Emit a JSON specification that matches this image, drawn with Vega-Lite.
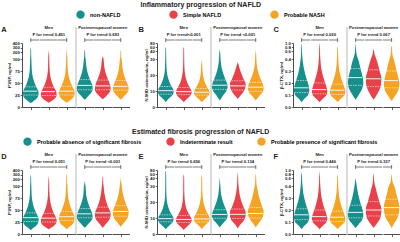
{
"$schema": "https://vega.github.io/schema/vega-lite/v6.json",
"padding": {"left": 1, "top": 1, "right": 1, "bottom": 1},
"config": {
 "font": "Liberation Sans",
 "view": {"stroke": null},
 "axis": {"grid": false, "labelFontSize": 4.3, "labelFontWeight": "bold", "labelColor": "#222", "titleFontSize": 4.4, "titleFontWeight": "bold", "titleColor": "#222", "domainColor": "#222", "tickColor": "#222", "domainWidth": 0.8, "tickWidth": 0.7, "tickSize": 1.8, "labelPadding": 0.8, "titlePadding": 1, "labelOverlap": false},
 "title": {"font": "Liberation Sans", "fontSize": 7, "fontWeight": "bold", "color": "#222"},
 "text": {"font": "Liberation Sans", "fontSize": 4.2, "fontWeight": "bold", "color": "#222"},
 "legend": {"layout": {"top": {"anchor": "middle"}}}
},
"datasets": {
"A": [
{"v":1,"cat":"non-NAFLD","y":8,"d":0},{"v":1,"cat":"non-NAFLD","y":12,"d":0.3},{"v":1,"cat":"non-NAFLD","y":18,"d":0.7},{"v":1,"cat":"non-NAFLD","y":25,"d":0.88},{"v":1,"cat":"non-NAFLD","y":30,"d":0.9},{"v":1,"cat":"non-NAFLD","y":36,"d":0.8},{"v":1,"cat":"non-NAFLD","y":45,"d":0.55},{"v":1,"cat":"non-NAFLD","y":55,"d":0.35},{"v":1,"cat":"non-NAFLD","y":65,"d":0.2},{"v":1,"cat":"non-NAFLD","y":80,"d":0.11},{"v":1,"cat":"non-NAFLD","y":100,"d":0.07},{"v":1,"cat":"non-NAFLD","y":150,"d":0.05},{"v":1,"cat":"non-NAFLD","y":250,"d":0.04},{"v":1,"cat":"non-NAFLD","y":300,"d":0},
{"v":1,"part":"q1","y":25,"d":0.84},{"v":1,"part":"median","y":33,"d":0.82},{"v":1,"part":"q3","y":42,"d":0.6},
{"v":2,"cat":"Simple NAFLD","y":9,"d":0},{"v":2,"cat":"Simple NAFLD","y":13,"d":0.35},{"v":2,"cat":"Simple NAFLD","y":19,"d":0.75},{"v":2,"cat":"Simple NAFLD","y":25,"d":0.9},{"v":2,"cat":"Simple NAFLD","y":30,"d":0.88},{"v":2,"cat":"Simple NAFLD","y":36,"d":0.75},{"v":2,"cat":"Simple NAFLD","y":45,"d":0.5},{"v":2,"cat":"Simple NAFLD","y":55,"d":0.3},{"v":2,"cat":"Simple NAFLD","y":65,"d":0.17},{"v":2,"cat":"Simple NAFLD","y":80,"d":0.09},{"v":2,"cat":"Simple NAFLD","y":100,"d":0.06},{"v":2,"cat":"Simple NAFLD","y":150,"d":0.05},{"v":2,"cat":"Simple NAFLD","y":240,"d":0},
{"v":2,"part":"q1","y":24,"d":0.86},{"v":2,"part":"median","y":32,"d":0.8},{"v":2,"part":"q3","y":41,"d":0.58},
{"v":3,"cat":"Probable NASH","y":9,"d":0},{"v":3,"cat":"Probable NASH","y":13,"d":0.3},{"v":3,"cat":"Probable NASH","y":19,"d":0.7},{"v":3,"cat":"Probable NASH","y":26,"d":0.88},{"v":3,"cat":"Probable NASH","y":31,"d":0.9},{"v":3,"cat":"Probable NASH","y":37,"d":0.8},{"v":3,"cat":"Probable NASH","y":46,"d":0.55},{"v":3,"cat":"Probable NASH","y":56,"d":0.35},{"v":3,"cat":"Probable NASH","y":66,"d":0.2},{"v":3,"cat":"Probable NASH","y":80,"d":0.11},{"v":3,"cat":"Probable NASH","y":100,"d":0.07},{"v":3,"cat":"Probable NASH","y":150,"d":0.05},{"v":3,"cat":"Probable NASH","y":300,"d":0},
{"v":3,"part":"q1","y":25,"d":0.82},{"v":3,"part":"median","y":33,"d":0.85},{"v":3,"part":"q3","y":43,"d":0.6},
{"v":4,"cat":"non-NAFLD","y":15,"d":0},{"v":4,"cat":"non-NAFLD","y":22,"d":0.35},{"v":4,"cat":"non-NAFLD","y":30,"d":0.75},{"v":4,"cat":"non-NAFLD","y":37,"d":0.9},{"v":4,"cat":"non-NAFLD","y":44,"d":0.88},{"v":4,"cat":"non-NAFLD","y":52,"d":0.72},{"v":4,"cat":"non-NAFLD","y":62,"d":0.5},{"v":4,"cat":"non-NAFLD","y":72,"d":0.32},{"v":4,"cat":"non-NAFLD","y":85,"d":0.18},{"v":4,"cat":"non-NAFLD","y":100,"d":0.1},{"v":4,"cat":"non-NAFLD","y":130,"d":0.06},{"v":4,"cat":"non-NAFLD","y":200,"d":0.04},{"v":4,"cat":"non-NAFLD","y":260,"d":0},
{"v":4,"part":"q1","y":36,"d":0.86},{"v":4,"part":"median","y":45,"d":0.84},{"v":4,"part":"q3","y":57,"d":0.6},
{"v":5,"cat":"Simple NAFLD","y":16,"d":0},{"v":5,"cat":"Simple NAFLD","y":23,"d":0.4},{"v":5,"cat":"Simple NAFLD","y":31,"d":0.8},{"v":5,"cat":"Simple NAFLD","y":38,"d":0.9},{"v":5,"cat":"Simple NAFLD","y":45,"d":0.85},{"v":5,"cat":"Simple NAFLD","y":53,"d":0.7},{"v":5,"cat":"Simple NAFLD","y":63,"d":0.48},{"v":5,"cat":"Simple NAFLD","y":73,"d":0.3},{"v":5,"cat":"Simple NAFLD","y":85,"d":0.17},{"v":5,"cat":"Simple NAFLD","y":100,"d":0.09},{"v":5,"cat":"Simple NAFLD","y":120,"d":0.05},{"v":5,"cat":"Simple NAFLD","y":140,"d":0},
{"v":5,"part":"q1","y":36,"d":0.86},{"v":5,"part":"median","y":44,"d":0.84},{"v":5,"part":"q3","y":56,"d":0.6},
{"v":6,"cat":"Probable NASH","y":15,"d":0},{"v":6,"cat":"Probable NASH","y":22,"d":0.35},{"v":6,"cat":"Probable NASH","y":30,"d":0.75},{"v":6,"cat":"Probable NASH","y":37,"d":0.9},{"v":6,"cat":"Probable NASH","y":43,"d":0.86},{"v":6,"cat":"Probable NASH","y":51,"d":0.7},{"v":6,"cat":"Probable NASH","y":61,"d":0.48},{"v":6,"cat":"Probable NASH","y":72,"d":0.3},{"v":6,"cat":"Probable NASH","y":85,"d":0.17},{"v":6,"cat":"Probable NASH","y":100,"d":0.1},{"v":6,"cat":"Probable NASH","y":130,"d":0.05},{"v":6,"cat":"Probable NASH","y":200,"d":0.04},{"v":6,"cat":"Probable NASH","y":240,"d":0},
{"v":6,"part":"q1","y":35,"d":0.85},{"v":6,"part":"median","y":43,"d":0.84},{"v":6,"part":"q3","y":55,"d":0.6}
],
"B": [
{"v":1,"cat":"non-NAFLD","y":3,"d":0},{"v":1,"cat":"non-NAFLD","y":5,"d":0.3},{"v":1,"cat":"non-NAFLD","y":7,"d":0.7},{"v":1,"cat":"non-NAFLD","y":9,"d":0.9},{"v":1,"cat":"non-NAFLD","y":11,"d":0.85},{"v":1,"cat":"non-NAFLD","y":13,"d":0.65},{"v":1,"cat":"non-NAFLD","y":16,"d":0.4},{"v":1,"cat":"non-NAFLD","y":19,"d":0.22},{"v":1,"cat":"non-NAFLD","y":23,"d":0.11},{"v":1,"cat":"non-NAFLD","y":28,"d":0.07},{"v":1,"cat":"non-NAFLD","y":35,"d":0.05},{"v":1,"cat":"non-NAFLD","y":50,"d":0.04},{"v":1,"cat":"non-NAFLD","y":60,"d":0},
{"v":1,"part":"q1","y":8,"d":0.8},{"v":1,"part":"median","y":10.2,"d":0.86},{"v":1,"part":"q3","y":12.8,"d":0.64},
{"v":2,"cat":"Simple NAFLD","y":3,"d":0},{"v":2,"cat":"Simple NAFLD","y":5,"d":0.35},{"v":2,"cat":"Simple NAFLD","y":7,"d":0.75},{"v":2,"cat":"Simple NAFLD","y":9,"d":0.9},{"v":2,"cat":"Simple NAFLD","y":11,"d":0.8},{"v":2,"cat":"Simple NAFLD","y":13,"d":0.6},{"v":2,"cat":"Simple NAFLD","y":16,"d":0.35},{"v":2,"cat":"Simple NAFLD","y":19,"d":0.2},{"v":2,"cat":"Simple NAFLD","y":23,"d":0.1},{"v":2,"cat":"Simple NAFLD","y":28,"d":0.06},{"v":2,"cat":"Simple NAFLD","y":35,"d":0.05},{"v":2,"cat":"Simple NAFLD","y":50,"d":0.04},{"v":2,"cat":"Simple NAFLD","y":60,"d":0},
{"v":2,"part":"q1","y":7.7,"d":0.8},{"v":2,"part":"median","y":9.6,"d":0.86},{"v":2,"part":"q3","y":12.2,"d":0.64},
{"v":3,"cat":"Probable NASH","y":3,"d":0},{"v":3,"cat":"Probable NASH","y":5,"d":0.35},{"v":3,"cat":"Probable NASH","y":7,"d":0.75},{"v":3,"cat":"Probable NASH","y":8.5,"d":0.9},{"v":3,"cat":"Probable NASH","y":10.5,"d":0.82},{"v":3,"cat":"Probable NASH","y":12.5,"d":0.6},{"v":3,"cat":"Probable NASH","y":15,"d":0.38},{"v":3,"cat":"Probable NASH","y":18,"d":0.2},{"v":3,"cat":"Probable NASH","y":22,"d":0.1},{"v":3,"cat":"Probable NASH","y":26,"d":0.06},{"v":3,"cat":"Probable NASH","y":30,"d":0},
{"v":3,"part":"q1","y":7.4,"d":0.8},{"v":3,"part":"median","y":9.2,"d":0.86},{"v":3,"part":"q3","y":11.6,"d":0.66},
{"v":4,"cat":"non-NAFLD","y":4,"d":0},{"v":4,"cat":"non-NAFLD","y":7,"d":0.35},{"v":4,"cat":"non-NAFLD","y":10,"d":0.75},{"v":4,"cat":"non-NAFLD","y":12.5,"d":0.9},{"v":4,"cat":"non-NAFLD","y":15,"d":0.82},{"v":4,"cat":"non-NAFLD","y":18,"d":0.6},{"v":4,"cat":"non-NAFLD","y":21,"d":0.4},{"v":4,"cat":"non-NAFLD","y":25,"d":0.2},{"v":4,"cat":"non-NAFLD","y":30,"d":0.09},{"v":4,"cat":"non-NAFLD","y":38,"d":0.05},{"v":4,"cat":"non-NAFLD","y":50,"d":0},
{"v":4,"part":"q1","y":11,"d":0.84},{"v":4,"part":"median","y":13.6,"d":0.86},{"v":4,"part":"q3","y":16.8,"d":0.68},
{"v":5,"cat":"Simple NAFLD","y":5,"d":0},{"v":5,"cat":"Simple NAFLD","y":7,"d":0.3},{"v":5,"cat":"Simple NAFLD","y":10,"d":0.7},{"v":5,"cat":"Simple NAFLD","y":12.5,"d":0.88},{"v":5,"cat":"Simple NAFLD","y":14.5,"d":0.9},{"v":5,"cat":"Simple NAFLD","y":17,"d":0.7},{"v":5,"cat":"Simple NAFLD","y":20,"d":0.48},{"v":5,"cat":"Simple NAFLD","y":23,"d":0.28},{"v":5,"cat":"Simple NAFLD","y":26,"d":0.12},{"v":5,"cat":"Simple NAFLD","y":28,"d":0},
{"v":5,"part":"q1","y":10.6,"d":0.74},{"v":5,"part":"median","y":13.2,"d":0.86},{"v":5,"part":"q3","y":16.4,"d":0.76},
{"v":6,"cat":"Probable NASH","y":4,"d":0},{"v":6,"cat":"Probable NASH","y":6.5,"d":0.35},{"v":6,"cat":"Probable NASH","y":9,"d":0.75},{"v":6,"cat":"Probable NASH","y":11.5,"d":0.9},{"v":6,"cat":"Probable NASH","y":14,"d":0.82},{"v":6,"cat":"Probable NASH","y":17,"d":0.6},{"v":6,"cat":"Probable NASH","y":20,"d":0.38},{"v":6,"cat":"Probable NASH","y":24,"d":0.18},{"v":6,"cat":"Probable NASH","y":29,"d":0.08},{"v":6,"cat":"Probable NASH","y":35,"d":0.05},{"v":6,"cat":"Probable NASH","y":48,"d":0},
{"v":6,"part":"q1","y":9.8,"d":0.8},{"v":6,"part":"median","y":12.4,"d":0.86},{"v":6,"part":"q3","y":15.4,"d":0.7}
],
"C": [
{"v":1,"cat":"non-NAFLD","y":0.04,"d":0},{"v":1,"cat":"non-NAFLD","y":0.07,"d":0.35},{"v":1,"cat":"non-NAFLD","y":0.1,"d":0.75},{"v":1,"cat":"non-NAFLD","y":0.14,"d":0.9},{"v":1,"cat":"non-NAFLD","y":0.18,"d":0.82},{"v":1,"cat":"non-NAFLD","y":0.23,"d":0.6},{"v":1,"cat":"non-NAFLD","y":0.28,"d":0.4},{"v":1,"cat":"non-NAFLD","y":0.34,"d":0.22},{"v":1,"cat":"non-NAFLD","y":0.4,"d":0.11},{"v":1,"cat":"non-NAFLD","y":0.5,"d":0.07},{"v":1,"cat":"non-NAFLD","y":0.6,"d":0.05},{"v":1,"cat":"non-NAFLD","y":0.8,"d":0.04},{"v":1,"cat":"non-NAFLD","y":1.0,"d":0},
{"v":1,"part":"q1","y":0.12,"d":0.84},{"v":1,"part":"median","y":0.16,"d":0.86},{"v":1,"part":"q3","y":0.22,"d":0.64},
{"v":2,"cat":"Simple NAFLD","y":0.04,"d":0},{"v":2,"cat":"Simple NAFLD","y":0.07,"d":0.4},{"v":2,"cat":"Simple NAFLD","y":0.1,"d":0.8},{"v":2,"cat":"Simple NAFLD","y":0.13,"d":0.9},{"v":2,"cat":"Simple NAFLD","y":0.17,"d":0.78},{"v":2,"cat":"Simple NAFLD","y":0.22,"d":0.55},{"v":2,"cat":"Simple NAFLD","y":0.27,"d":0.35},{"v":2,"cat":"Simple NAFLD","y":0.33,"d":0.18},{"v":2,"cat":"Simple NAFLD","y":0.4,"d":0.09},{"v":2,"cat":"Simple NAFLD","y":0.5,"d":0.06},{"v":2,"cat":"Simple NAFLD","y":0.6,"d":0.05},{"v":2,"cat":"Simple NAFLD","y":0.8,"d":0.04},{"v":2,"cat":"Simple NAFLD","y":1.0,"d":0},
{"v":2,"part":"q1","y":0.11,"d":0.84},{"v":2,"part":"median","y":0.145,"d":0.84},{"v":2,"part":"q3","y":0.2,"d":0.62},
{"v":3,"cat":"Probable NASH","y":0.04,"d":0},{"v":3,"cat":"Probable NASH","y":0.07,"d":0.4},{"v":3,"cat":"Probable NASH","y":0.1,"d":0.82},{"v":3,"cat":"Probable NASH","y":0.13,"d":0.9},{"v":3,"cat":"Probable NASH","y":0.17,"d":0.75},{"v":3,"cat":"Probable NASH","y":0.22,"d":0.5},{"v":3,"cat":"Probable NASH","y":0.27,"d":0.3},{"v":3,"cat":"Probable NASH","y":0.33,"d":0.15},{"v":3,"cat":"Probable NASH","y":0.4,"d":0.08},{"v":3,"cat":"Probable NASH","y":0.5,"d":0.06},{"v":3,"cat":"Probable NASH","y":0.7,"d":0.04},{"v":3,"cat":"Probable NASH","y":0.85,"d":0},
{"v":3,"part":"q1","y":0.105,"d":0.84},{"v":3,"part":"median","y":0.14,"d":0.84},{"v":3,"part":"q3","y":0.19,"d":0.62},
{"v":4,"cat":"non-NAFLD","y":0.06,"d":0},{"v":4,"cat":"non-NAFLD","y":0.1,"d":0.35},{"v":4,"cat":"non-NAFLD","y":0.15,"d":0.75},{"v":4,"cat":"non-NAFLD","y":0.2,"d":0.9},{"v":4,"cat":"non-NAFLD","y":0.25,"d":0.82},{"v":4,"cat":"non-NAFLD","y":0.31,"d":0.6},{"v":4,"cat":"non-NAFLD","y":0.38,"d":0.38},{"v":4,"cat":"non-NAFLD","y":0.45,"d":0.2},{"v":4,"cat":"non-NAFLD","y":0.55,"d":0.09},{"v":4,"cat":"non-NAFLD","y":0.65,"d":0.06},{"v":4,"cat":"non-NAFLD","y":0.8,"d":0.04},{"v":4,"cat":"non-NAFLD","y":1.0,"d":0},
{"v":4,"part":"q1","y":0.18,"d":0.82},{"v":4,"part":"median","y":0.245,"d":0.82},{"v":4,"part":"q3","y":0.32,"d":0.56},
{"v":5,"cat":"Simple NAFLD","y":0.06,"d":0},{"v":5,"cat":"Simple NAFLD","y":0.1,"d":0.35},{"v":5,"cat":"Simple NAFLD","y":0.15,"d":0.72},{"v":5,"cat":"Simple NAFLD","y":0.2,"d":0.88},{"v":5,"cat":"Simple NAFLD","y":0.24,"d":0.9},{"v":5,"cat":"Simple NAFLD","y":0.3,"d":0.7},{"v":5,"cat":"Simple NAFLD","y":0.37,"d":0.45},{"v":5,"cat":"Simple NAFLD","y":0.44,"d":0.25},{"v":5,"cat":"Simple NAFLD","y":0.52,"d":0.11},{"v":5,"cat":"Simple NAFLD","y":0.6,"d":0.06},{"v":5,"cat":"Simple NAFLD","y":0.7,"d":0},
{"v":5,"part":"q1","y":0.17,"d":0.76},{"v":5,"part":"median","y":0.235,"d":0.86},{"v":5,"part":"q3","y":0.31,"d":0.66},
{"v":6,"cat":"Probable NASH","y":0.05,"d":0},{"v":6,"cat":"Probable NASH","y":0.09,"d":0.38},{"v":6,"cat":"Probable NASH","y":0.14,"d":0.78},{"v":6,"cat":"Probable NASH","y":0.19,"d":0.9},{"v":6,"cat":"Probable NASH","y":0.24,"d":0.8},{"v":6,"cat":"Probable NASH","y":0.3,"d":0.58},{"v":6,"cat":"Probable NASH","y":0.37,"d":0.36},{"v":6,"cat":"Probable NASH","y":0.44,"d":0.18},{"v":6,"cat":"Probable NASH","y":0.53,"d":0.09},{"v":6,"cat":"Probable NASH","y":0.62,"d":0.06},{"v":6,"cat":"Probable NASH","y":0.8,"d":0.04},{"v":6,"cat":"Probable NASH","y":0.9,"d":0},
{"v":6,"part":"q1","y":0.16,"d":0.84},{"v":6,"part":"median","y":0.22,"d":0.82},{"v":6,"part":"q3","y":0.3,"d":0.56}
],
"D": [
{"v":1,"cat":"Probable absence of significant fibrosis","y":8,"d":0},{"v":1,"cat":"Probable absence of significant fibrosis","y":13,"d":0.3},{"v":1,"cat":"Probable absence of significant fibrosis","y":19,"d":0.7},{"v":1,"cat":"Probable absence of significant fibrosis","y":26,"d":0.88},{"v":1,"cat":"Probable absence of significant fibrosis","y":32,"d":0.9},{"v":1,"cat":"Probable absence of significant fibrosis","y":38,"d":0.78},{"v":1,"cat":"Probable absence of significant fibrosis","y":47,"d":0.55},{"v":1,"cat":"Probable absence of significant fibrosis","y":57,"d":0.34},{"v":1,"cat":"Probable absence of significant fibrosis","y":68,"d":0.19},{"v":1,"cat":"Probable absence of significant fibrosis","y":82,"d":0.1},{"v":1,"cat":"Probable absence of significant fibrosis","y":100,"d":0.07},{"v":1,"cat":"Probable absence of significant fibrosis","y":150,"d":0.05},{"v":1,"cat":"Probable absence of significant fibrosis","y":250,"d":0.04},{"v":1,"cat":"Probable absence of significant fibrosis","y":300,"d":0},
{"v":1,"part":"q1","y":26,"d":0.84},{"v":1,"part":"median","y":34,"d":0.86},{"v":1,"part":"q3","y":44,"d":0.62},
{"v":2,"cat":"Indeterminate result","y":10,"d":0},{"v":2,"cat":"Indeterminate result","y":14,"d":0.35},{"v":2,"cat":"Indeterminate result","y":20,"d":0.75},{"v":2,"cat":"Indeterminate result","y":26,"d":0.9},{"v":2,"cat":"Indeterminate result","y":31,"d":0.88},{"v":2,"cat":"Indeterminate result","y":37,"d":0.75},{"v":2,"cat":"Indeterminate result","y":46,"d":0.52},{"v":2,"cat":"Indeterminate result","y":56,"d":0.32},{"v":2,"cat":"Indeterminate result","y":67,"d":0.18},{"v":2,"cat":"Indeterminate result","y":82,"d":0.09},{"v":2,"cat":"Indeterminate result","y":100,"d":0.06},{"v":2,"cat":"Indeterminate result","y":150,"d":0.05},{"v":2,"cat":"Indeterminate result","y":270,"d":0},
{"v":2,"part":"q1","y":25,"d":0.86},{"v":2,"part":"median","y":33,"d":0.84},{"v":2,"part":"q3","y":43,"d":0.6},
{"v":3,"cat":"Probable presence of significant fibrosis","y":10,"d":0},{"v":3,"cat":"Probable presence of significant fibrosis","y":15,"d":0.3},{"v":3,"cat":"Probable presence of significant fibrosis","y":21,"d":0.68},{"v":3,"cat":"Probable presence of significant fibrosis","y":28,"d":0.86},{"v":3,"cat":"Probable presence of significant fibrosis","y":34,"d":0.9},{"v":3,"cat":"Probable presence of significant fibrosis","y":41,"d":0.8},{"v":3,"cat":"Probable presence of significant fibrosis","y":50,"d":0.57},{"v":3,"cat":"Probable presence of significant fibrosis","y":61,"d":0.36},{"v":3,"cat":"Probable presence of significant fibrosis","y":72,"d":0.2},{"v":3,"cat":"Probable presence of significant fibrosis","y":86,"d":0.11},{"v":3,"cat":"Probable presence of significant fibrosis","y":100,"d":0.08},{"v":3,"cat":"Probable presence of significant fibrosis","y":150,"d":0.05},{"v":3,"cat":"Probable presence of significant fibrosis","y":250,"d":0.04},{"v":3,"cat":"Probable presence of significant fibrosis","y":320,"d":0},
{"v":3,"part":"q1","y":28,"d":0.82},{"v":3,"part":"median","y":36,"d":0.86},{"v":3,"part":"q3","y":47,"d":0.64},
{"v":4,"cat":"Probable absence of significant fibrosis","y":13,"d":0},{"v":4,"cat":"Probable absence of significant fibrosis","y":20,"d":0.35},{"v":4,"cat":"Probable absence of significant fibrosis","y":28,"d":0.75},{"v":4,"cat":"Probable absence of significant fibrosis","y":35,"d":0.9},{"v":4,"cat":"Probable absence of significant fibrosis","y":42,"d":0.86},{"v":4,"cat":"Probable absence of significant fibrosis","y":50,"d":0.7},{"v":4,"cat":"Probable absence of significant fibrosis","y":60,"d":0.48},{"v":4,"cat":"Probable absence of significant fibrosis","y":70,"d":0.3},{"v":4,"cat":"Probable absence of significant fibrosis","y":82,"d":0.16},{"v":4,"cat":"Probable absence of significant fibrosis","y":100,"d":0.09},{"v":4,"cat":"Probable absence of significant fibrosis","y":130,"d":0.05},{"v":4,"cat":"Probable absence of significant fibrosis","y":180,"d":0},
{"v":4,"part":"q1","y":34,"d":0.86},{"v":4,"part":"median","y":42,"d":0.82},{"v":4,"part":"q3","y":53,"d":0.62},
{"v":5,"cat":"Indeterminate result","y":13,"d":0},{"v":5,"cat":"Indeterminate result","y":20,"d":0.3},{"v":5,"cat":"Indeterminate result","y":28,"d":0.68},{"v":5,"cat":"Indeterminate result","y":36,"d":0.88},{"v":5,"cat":"Indeterminate result","y":43,"d":0.9},{"v":5,"cat":"Indeterminate result","y":52,"d":0.72},{"v":5,"cat":"Indeterminate result","y":62,"d":0.5},{"v":5,"cat":"Indeterminate result","y":73,"d":0.32},{"v":5,"cat":"Indeterminate result","y":86,"d":0.18},{"v":5,"cat":"Indeterminate result","y":100,"d":0.1},{"v":5,"cat":"Indeterminate result","y":140,"d":0.06},{"v":5,"cat":"Indeterminate result","y":220,"d":0.04},{"v":5,"cat":"Indeterminate result","y":260,"d":0},
{"v":5,"part":"q1","y":35,"d":0.84},{"v":5,"part":"median","y":44,"d":0.86},{"v":5,"part":"q3","y":56,"d":0.62},
{"v":6,"cat":"Probable presence of significant fibrosis","y":15,"d":0},{"v":6,"cat":"Probable presence of significant fibrosis","y":22,"d":0.3},{"v":6,"cat":"Probable presence of significant fibrosis","y":30,"d":0.66},{"v":6,"cat":"Probable presence of significant fibrosis","y":38,"d":0.86},{"v":6,"cat":"Probable presence of significant fibrosis","y":46,"d":0.9},{"v":6,"cat":"Probable presence of significant fibrosis","y":55,"d":0.75},{"v":6,"cat":"Probable presence of significant fibrosis","y":65,"d":0.54},{"v":6,"cat":"Probable presence of significant fibrosis","y":76,"d":0.35},{"v":6,"cat":"Probable presence of significant fibrosis","y":88,"d":0.2},{"v":6,"cat":"Probable presence of significant fibrosis","y":100,"d":0.12},{"v":6,"cat":"Probable presence of significant fibrosis","y":150,"d":0.06},{"v":6,"cat":"Probable presence of significant fibrosis","y":250,"d":0},
{"v":6,"part":"q1","y":37,"d":0.82},{"v":6,"part":"median","y":47,"d":0.86},{"v":6,"part":"q3","y":59,"d":0.64}
],
"E": [
{"v":1,"cat":"Probable absence of significant fibrosis","y":3,"d":0},{"v":1,"cat":"Probable absence of significant fibrosis","y":5,"d":0.35},{"v":1,"cat":"Probable absence of significant fibrosis","y":7,"d":0.75},{"v":1,"cat":"Probable absence of significant fibrosis","y":9,"d":0.9},{"v":1,"cat":"Probable absence of significant fibrosis","y":11,"d":0.8},{"v":1,"cat":"Probable absence of significant fibrosis","y":13,"d":0.58},{"v":1,"cat":"Probable absence of significant fibrosis","y":16,"d":0.34},{"v":1,"cat":"Probable absence of significant fibrosis","y":19,"d":0.18},{"v":1,"cat":"Probable absence of significant fibrosis","y":23,"d":0.09},{"v":1,"cat":"Probable absence of significant fibrosis","y":28,"d":0.06},{"v":1,"cat":"Probable absence of significant fibrosis","y":40,"d":0.05},{"v":1,"cat":"Probable absence of significant fibrosis","y":70,"d":0.04},{"v":1,"cat":"Probable absence of significant fibrosis","y":75,"d":0},
{"v":1,"part":"q1","y":7.6,"d":0.8},{"v":1,"part":"median","y":9.6,"d":0.84},{"v":1,"part":"q3","y":12,"d":0.66},
{"v":2,"cat":"Indeterminate result","y":2.5,"d":0},{"v":2,"cat":"Indeterminate result","y":4.5,"d":0.35},{"v":2,"cat":"Indeterminate result","y":6.5,"d":0.75},{"v":2,"cat":"Indeterminate result","y":8.5,"d":0.9},{"v":2,"cat":"Indeterminate result","y":10.5,"d":0.8},{"v":2,"cat":"Indeterminate result","y":12.5,"d":0.58},{"v":2,"cat":"Indeterminate result","y":15,"d":0.36},{"v":2,"cat":"Indeterminate result","y":18,"d":0.2},{"v":2,"cat":"Indeterminate result","y":22,"d":0.1},{"v":2,"cat":"Indeterminate result","y":27,"d":0.06},{"v":2,"cat":"Indeterminate result","y":40,"d":0.05},{"v":2,"cat":"Indeterminate result","y":60,"d":0},
{"v":2,"part":"q1","y":7.2,"d":0.8},{"v":2,"part":"median","y":9.1,"d":0.86},{"v":2,"part":"q3","y":11.6,"d":0.66},
{"v":3,"cat":"Probable presence of significant fibrosis","y":3,"d":0},{"v":3,"cat":"Probable presence of significant fibrosis","y":5,"d":0.3},{"v":3,"cat":"Probable presence of significant fibrosis","y":7,"d":0.7},{"v":3,"cat":"Probable presence of significant fibrosis","y":9,"d":0.9},{"v":3,"cat":"Probable presence of significant fibrosis","y":11,"d":0.84},{"v":3,"cat":"Probable presence of significant fibrosis","y":13,"d":0.64},{"v":3,"cat":"Probable presence of significant fibrosis","y":16,"d":0.4},{"v":3,"cat":"Probable presence of significant fibrosis","y":19,"d":0.22},{"v":3,"cat":"Probable presence of significant fibrosis","y":23,"d":0.11},{"v":3,"cat":"Probable presence of significant fibrosis","y":28,"d":0.06},{"v":3,"cat":"Probable presence of significant fibrosis","y":40,"d":0.05},{"v":3,"cat":"Probable presence of significant fibrosis","y":55,"d":0},
{"v":3,"part":"q1","y":7.5,"d":0.78},{"v":3,"part":"median","y":9.4,"d":0.88},{"v":3,"part":"q3","y":12.2,"d":0.68},
{"v":4,"cat":"Probable absence of significant fibrosis","y":4,"d":0},{"v":4,"cat":"Probable absence of significant fibrosis","y":6.5,"d":0.35},{"v":4,"cat":"Probable absence of significant fibrosis","y":9,"d":0.75},{"v":4,"cat":"Probable absence of significant fibrosis","y":11.5,"d":0.9},{"v":4,"cat":"Probable absence of significant fibrosis","y":14,"d":0.8},{"v":4,"cat":"Probable absence of significant fibrosis","y":17,"d":0.58},{"v":4,"cat":"Probable absence of significant fibrosis","y":20,"d":0.38},{"v":4,"cat":"Probable absence of significant fibrosis","y":24,"d":0.18},{"v":4,"cat":"Probable absence of significant fibrosis","y":29,"d":0.08},{"v":4,"cat":"Probable absence of significant fibrosis","y":33,"d":0.05},{"v":4,"cat":"Probable absence of significant fibrosis","y":45,"d":0},
{"v":4,"part":"q1","y":9.8,"d":0.8},{"v":4,"part":"median","y":12.2,"d":0.86},{"v":4,"part":"q3","y":15.2,"d":0.68},
{"v":5,"cat":"Indeterminate result","y":3.5,"d":0},{"v":5,"cat":"Indeterminate result","y":6,"d":0.3},{"v":5,"cat":"Indeterminate result","y":8.5,"d":0.7},{"v":5,"cat":"Indeterminate result","y":11,"d":0.88},{"v":5,"cat":"Indeterminate result","y":13.5,"d":0.9},{"v":5,"cat":"Indeterminate result","y":16.5,"d":0.68},{"v":5,"cat":"Indeterminate result","y":20,"d":0.44},{"v":5,"cat":"Indeterminate result","y":24,"d":0.24},{"v":5,"cat":"Indeterminate result","y":29,"d":0.11},{"v":5,"cat":"Indeterminate result","y":35,"d":0.06},{"v":5,"cat":"Indeterminate result","y":50,"d":0.04},{"v":5,"cat":"Indeterminate result","y":70,"d":0},
{"v":5,"part":"q1","y":9.7,"d":0.78},{"v":5,"part":"median","y":12.3,"d":0.88},{"v":5,"part":"q3","y":15.6,"d":0.72},
{"v":6,"cat":"Probable presence of significant fibrosis","y":4,"d":0},{"v":6,"cat":"Probable presence of significant fibrosis","y":6.5,"d":0.3},{"v":6,"cat":"Probable presence of significant fibrosis","y":9,"d":0.65},{"v":6,"cat":"Probable presence of significant fibrosis","y":11.5,"d":0.85},{"v":6,"cat":"Probable presence of significant fibrosis","y":14,"d":0.9},{"v":6,"cat":"Probable presence of significant fibrosis","y":17,"d":0.74},{"v":6,"cat":"Probable presence of significant fibrosis","y":21,"d":0.5},{"v":6,"cat":"Probable presence of significant fibrosis","y":25,"d":0.3},{"v":6,"cat":"Probable presence of significant fibrosis","y":30,"d":0.12},{"v":6,"cat":"Probable presence of significant fibrosis","y":36,"d":0.06},{"v":6,"cat":"Probable presence of significant fibrosis","y":50,"d":0.04},{"v":6,"cat":"Probable presence of significant fibrosis","y":65,"d":0},
{"v":6,"part":"q1","y":10,"d":0.74},{"v":6,"part":"median","y":12.8,"d":0.86},{"v":6,"part":"q3","y":16.6,"d":0.68}
],
"F": [
{"v":1,"cat":"Probable absence of significant fibrosis","y":0.04,"d":0},{"v":1,"cat":"Probable absence of significant fibrosis","y":0.07,"d":0.35},{"v":1,"cat":"Probable absence of significant fibrosis","y":0.1,"d":0.75},{"v":1,"cat":"Probable absence of significant fibrosis","y":0.14,"d":0.9},{"v":1,"cat":"Probable absence of significant fibrosis","y":0.18,"d":0.8},{"v":1,"cat":"Probable absence of significant fibrosis","y":0.23,"d":0.58},{"v":1,"cat":"Probable absence of significant fibrosis","y":0.28,"d":0.38},{"v":1,"cat":"Probable absence of significant fibrosis","y":0.34,"d":0.2},{"v":1,"cat":"Probable absence of significant fibrosis","y":0.4,"d":0.11},{"v":1,"cat":"Probable absence of significant fibrosis","y":0.5,"d":0.07},{"v":1,"cat":"Probable absence of significant fibrosis","y":0.7,"d":0.05},{"v":1,"cat":"Probable absence of significant fibrosis","y":0.9,"d":0},
{"v":1,"part":"q1","y":0.12,"d":0.84},{"v":1,"part":"median","y":0.16,"d":0.86},{"v":1,"part":"q3","y":0.21,"d":0.64},
{"v":2,"cat":"Indeterminate result","y":0.04,"d":0},{"v":2,"cat":"Indeterminate result","y":0.07,"d":0.4},{"v":2,"cat":"Indeterminate result","y":0.1,"d":0.8},{"v":2,"cat":"Indeterminate result","y":0.13,"d":0.9},{"v":2,"cat":"Indeterminate result","y":0.17,"d":0.76},{"v":2,"cat":"Indeterminate result","y":0.22,"d":0.52},{"v":2,"cat":"Indeterminate result","y":0.27,"d":0.33},{"v":2,"cat":"Indeterminate result","y":0.33,"d":0.17},{"v":2,"cat":"Indeterminate result","y":0.4,"d":0.09},{"v":2,"cat":"Indeterminate result","y":0.5,"d":0.06},{"v":2,"cat":"Indeterminate result","y":0.7,"d":0.04},{"v":2,"cat":"Indeterminate result","y":0.95,"d":0},
{"v":2,"part":"q1","y":0.11,"d":0.84},{"v":2,"part":"median","y":0.145,"d":0.84},{"v":2,"part":"q3","y":0.2,"d":0.58},
{"v":3,"cat":"Probable presence of significant fibrosis","y":0.04,"d":0},{"v":3,"cat":"Probable presence of significant fibrosis","y":0.07,"d":0.4},{"v":3,"cat":"Probable presence of significant fibrosis","y":0.1,"d":0.82},{"v":3,"cat":"Probable presence of significant fibrosis","y":0.13,"d":0.9},{"v":3,"cat":"Probable presence of significant fibrosis","y":0.17,"d":0.74},{"v":3,"cat":"Probable presence of significant fibrosis","y":0.22,"d":0.5},{"v":3,"cat":"Probable presence of significant fibrosis","y":0.27,"d":0.3},{"v":3,"cat":"Probable presence of significant fibrosis","y":0.33,"d":0.15},{"v":3,"cat":"Probable presence of significant fibrosis","y":0.4,"d":0.08},{"v":3,"cat":"Probable presence of significant fibrosis","y":0.5,"d":0.06},{"v":3,"cat":"Probable presence of significant fibrosis","y":0.65,"d":0.04},{"v":3,"cat":"Probable presence of significant fibrosis","y":0.8,"d":0},
{"v":3,"part":"q1","y":0.105,"d":0.84},{"v":3,"part":"median","y":0.14,"d":0.84},{"v":3,"part":"q3","y":0.19,"d":0.6},
{"v":4,"cat":"Probable absence of significant fibrosis","y":0.05,"d":0},{"v":4,"cat":"Probable absence of significant fibrosis","y":0.08,"d":0.35},{"v":4,"cat":"Probable absence of significant fibrosis","y":0.12,"d":0.78},{"v":4,"cat":"Probable absence of significant fibrosis","y":0.16,"d":0.9},{"v":4,"cat":"Probable absence of significant fibrosis","y":0.2,"d":0.82},{"v":4,"cat":"Probable absence of significant fibrosis","y":0.25,"d":0.6},{"v":4,"cat":"Probable absence of significant fibrosis","y":0.3,"d":0.4},{"v":4,"cat":"Probable absence of significant fibrosis","y":0.36,"d":0.22},{"v":4,"cat":"Probable absence of significant fibrosis","y":0.43,"d":0.11},{"v":4,"cat":"Probable absence of significant fibrosis","y":0.5,"d":0.07},{"v":4,"cat":"Probable absence of significant fibrosis","y":0.6,"d":0},
{"v":4,"part":"q1","y":0.135,"d":0.84},{"v":4,"part":"median","y":0.18,"d":0.86},{"v":4,"part":"q3","y":0.24,"d":0.64},
{"v":5,"cat":"Indeterminate result","y":0.05,"d":0},{"v":5,"cat":"Indeterminate result","y":0.08,"d":0.3},{"v":5,"cat":"Indeterminate result","y":0.12,"d":0.7},{"v":5,"cat":"Indeterminate result","y":0.17,"d":0.88},{"v":5,"cat":"Indeterminate result","y":0.21,"d":0.9},{"v":5,"cat":"Indeterminate result","y":0.26,"d":0.7},{"v":5,"cat":"Indeterminate result","y":0.32,"d":0.46},{"v":5,"cat":"Indeterminate result","y":0.38,"d":0.26},{"v":5,"cat":"Indeterminate result","y":0.45,"d":0.12},{"v":5,"cat":"Indeterminate result","y":0.55,"d":0.06},{"v":5,"cat":"Indeterminate result","y":0.7,"d":0.04},{"v":5,"cat":"Indeterminate result","y":0.85,"d":0},
{"v":5,"part":"q1","y":0.15,"d":0.8},{"v":5,"part":"median","y":0.2,"d":0.88},{"v":5,"part":"q3","y":0.27,"d":0.64},
{"v":6,"cat":"Probable presence of significant fibrosis","y":0.05,"d":0},{"v":6,"cat":"Probable presence of significant fibrosis","y":0.09,"d":0.3},{"v":6,"cat":"Probable presence of significant fibrosis","y":0.13,"d":0.65},{"v":6,"cat":"Probable presence of significant fibrosis","y":0.18,"d":0.85},{"v":6,"cat":"Probable presence of significant fibrosis","y":0.23,"d":0.9},{"v":6,"cat":"Probable presence of significant fibrosis","y":0.28,"d":0.75},{"v":6,"cat":"Probable presence of significant fibrosis","y":0.34,"d":0.52},{"v":6,"cat":"Probable presence of significant fibrosis","y":0.41,"d":0.3},{"v":6,"cat":"Probable presence of significant fibrosis","y":0.48,"d":0.14},{"v":6,"cat":"Probable presence of significant fibrosis","y":0.56,"d":0.07},{"v":6,"cat":"Probable presence of significant fibrosis","y":0.7,"d":0.04},{"v":6,"cat":"Probable presence of significant fibrosis","y":0.8,"d":0},
{"v":6,"part":"q1","y":0.16,"d":0.8},{"v":6,"part":"median","y":0.22,"d":0.9},{"v":6,"part":"q3","y":0.29,"d":0.66}
]
},
"vconcat": [
{
"title": {"text": "Inflammatory progression of NAFLD", "anchor": "middle", "offset": 2},
"spacing": 8,
"hconcat": [
{
 "data": {"name": "A"},
 "title": {"text": "A", "anchor": "start", "fontSize": 7.5, "offset": -7, "dx": -5},
 "facet": {"column": {"field": "v", "type": "ordinal", "header": null}},
 "spacing": 0,
 "bounds": "flush",
 "spec": {
  "width": 17.5, "height": 64,
  "layer": [
     {"transform": [{"filter": "!datum.part"}],
      "mark": {"type": "area", "orient": "horizontal", "interpolate": "monotone", "opacity": 1},
      "encoding": {
       "y": {"field": "y", "type": "quantitative", "title": "P1NP, ng/ml", "scale": {"domain": [0,100,200,400], "range": [64,16,9,0], "nice": false, "zero": false}, "axis": {"values": [0,25,50,75,100,200,300,400], "tickCount": 30, "labelOverlap": false}},
       "x": {"field": "d", "type": "quantitative", "stack": "center", "impute": null, "title": null, "scale": {"domain": [-0.05,0.95], "zero": false, "nice": false}, "axis": {"values": [0.45], "labels": false, "tickSize": 2.5}},
       "color": {"field": "cat", "type": "nominal", "scale": {"domain": ["non-NAFLD","Simple NAFLD","Probable NASH"], "range": ["#17908d","#e8414a","#f4a325"]}, "legend": {"orient": "top", "direction": "horizontal", "title": null, "symbolType": "circle", "symbolSize": 70, "symbolStrokeWidth": 0, "labelFontSize": 5.5, "labelFontWeight": "bold", "labelOffset": 5, "columnPadding": 48, "offset": 6, "padding": 0}}
      }},
     {"transform": [{"filter": "datum.part == 'median'"}],
      "mark": {"type": "rule", "orient": "horizontal", "color": "white", "strokeWidth": 0.9},
      "encoding": {"y": {"field": "y", "type": "quantitative"}, "x": {"field": "d", "type": "quantitative", "stack": "center", "impute": null}}},
     {"transform": [{"filter": "datum.part == 'q1' || datum.part == 'q3'"}],
      "mark": {"type": "rule", "orient": "horizontal", "color": "white", "strokeWidth": 0.6, "strokeDash": [1.5,1]},
      "encoding": {"y": {"field": "y", "type": "quantitative"}, "x": {"field": "d", "type": "quantitative", "stack": "center", "impute": null}}},
     {"transform": [{"filter": "datum.v == 4 && datum.part == 'median'"}],
      "mark": {"type": "rule", "color": "#9a9a9a", "strokeWidth": 0.7, "y2Offset": -16},
      "encoding": {"x": {"datum": -0.05}, "y": {"datum": 0}, "y2": {"datum": 400}}},
     {"transform": [{"filter": "(datum.v == 1 || datum.v == 4) && datum.part == 'median'"}],
      "mark": {"type": "rule", "color": "#222", "strokeWidth": 0.6, "yOffset": -3},
      "encoding": {"x": {"datum": 0.45}, "x2": {"datum": 0.95}, "y": {"datum": 400}}},
     {"transform": [{"filter": "(datum.v == 2 || datum.v == 5) && datum.part == 'median'"}],
      "mark": {"type": "rule", "color": "#222", "strokeWidth": 0.6, "yOffset": -3},
      "encoding": {"x": {"datum": -0.05}, "x2": {"datum": 0.95}, "y": {"datum": 400}}},
     {"transform": [{"filter": "(datum.v == 3 || datum.v == 6) && datum.part == 'median'"}],
      "mark": {"type": "rule", "color": "#222", "strokeWidth": 0.6, "yOffset": -3},
      "encoding": {"x": {"datum": -0.05}, "x2": {"datum": 0.45}, "y": {"datum": 400}}},
     {"transform": [{"filter": "(datum.v == 1 || datum.v == 3 || datum.v == 4 || datum.v == 6) && datum.part == 'median'"}],
      "mark": {"type": "rule", "color": "#222", "strokeWidth": 0.6, "yOffset": -5, "y2Offset": -1},
      "encoding": {"x": {"datum": 0.45}, "y": {"datum": 400}, "y2": {"datum": 400}}},
     {"transform": [{"filter": "(datum.v == 2 || datum.v == 5) && datum.part == 'median'"}],
      "mark": {"type": "text", "dy": -15, "baseline": "middle"},
      "encoding": {"x": {"datum": 0.45}, "y": {"datum": 400}, "text": {"condition": {"test": "datum.v == 2", "value": "Men"}, "value": "Postmenopausal women"}}},
     {"transform": [{"filter": "(datum.v == 2 || datum.v == 5) && datum.part == 'median'"}],
      "mark": {"type": "text", "dy": -8, "baseline": "middle"},
      "encoding": {"x": {"datum": 0.45}, "y": {"datum": 400}, "text": {"condition": {"test": "datum.v == 2", "value": "P for trend 0.451"}, "value": "P for trend  0.693"}}}
  ]
 }
},
{
 "data": {"name": "B"},
 "title": {"text": "B", "anchor": "start", "fontSize": 7.5, "offset": -7, "dx": -5},
 "facet": {"column": {"field": "v", "type": "ordinal", "header": null}},
 "spacing": 0,
 "bounds": "flush",
 "spec": {
  "width": 17.5, "height": 64,
  "layer": [
     {"transform": [{"filter": "!datum.part"}],
      "mark": {"type": "area", "orient": "horizontal", "interpolate": "monotone", "opacity": 1},
      "encoding": {
       "y": {"field": "y", "type": "quantitative", "title": "N-MID osteocalcin, ng/ml", "scale": {"domain": [0,30,40,80], "range": [64,16,8,0], "nice": false, "zero": false}, "axis": {"values": [0,10,20,30,40,60,80], "tickCount": 30, "labelOverlap": false}},
       "x": {"field": "d", "type": "quantitative", "stack": "center", "impute": null, "title": null, "scale": {"domain": [-0.05,0.95], "zero": false, "nice": false}, "axis": {"values": [0.45], "labels": false, "tickSize": 2.5}},
       "color": {"field": "cat", "type": "nominal"}
      }},
     {"transform": [{"filter": "datum.part == 'median'"}],
      "mark": {"type": "rule", "orient": "horizontal", "color": "white", "strokeWidth": 0.9},
      "encoding": {"y": {"field": "y", "type": "quantitative"}, "x": {"field": "d", "type": "quantitative", "stack": "center", "impute": null}}},
     {"transform": [{"filter": "datum.part == 'q1' || datum.part == 'q3'"}],
      "mark": {"type": "rule", "orient": "horizontal", "color": "white", "strokeWidth": 0.6, "strokeDash": [1.5,1]},
      "encoding": {"y": {"field": "y", "type": "quantitative"}, "x": {"field": "d", "type": "quantitative", "stack": "center", "impute": null}}},
     {"transform": [{"filter": "datum.v == 4 && datum.part == 'median'"}],
      "mark": {"type": "rule", "color": "#9a9a9a", "strokeWidth": 0.7, "y2Offset": -16},
      "encoding": {"x": {"datum": -0.05}, "y": {"datum": 0}, "y2": {"datum": 80}}},
     {"transform": [{"filter": "(datum.v == 1 || datum.v == 4) && datum.part == 'median'"}],
      "mark": {"type": "rule", "color": "#222", "strokeWidth": 0.6, "yOffset": -3},
      "encoding": {"x": {"datum": 0.45}, "x2": {"datum": 0.95}, "y": {"datum": 80}}},
     {"transform": [{"filter": "(datum.v == 2 || datum.v == 5) && datum.part == 'median'"}],
      "mark": {"type": "rule", "color": "#222", "strokeWidth": 0.6, "yOffset": -3},
      "encoding": {"x": {"datum": -0.05}, "x2": {"datum": 0.95}, "y": {"datum": 80}}},
     {"transform": [{"filter": "(datum.v == 3 || datum.v == 6) && datum.part == 'median'"}],
      "mark": {"type": "rule", "color": "#222", "strokeWidth": 0.6, "yOffset": -3},
      "encoding": {"x": {"datum": -0.05}, "x2": {"datum": 0.45}, "y": {"datum": 80}}},
     {"transform": [{"filter": "(datum.v == 1 || datum.v == 3 || datum.v == 4 || datum.v == 6) && datum.part == 'median'"}],
      "mark": {"type": "rule", "color": "#222", "strokeWidth": 0.6, "yOffset": -5, "y2Offset": -1},
      "encoding": {"x": {"datum": 0.45}, "y": {"datum": 80}, "y2": {"datum": 80}}},
     {"transform": [{"filter": "(datum.v == 2 || datum.v == 5) && datum.part == 'median'"}],
      "mark": {"type": "text", "dy": -15, "baseline": "middle"},
      "encoding": {"x": {"datum": 0.45}, "y": {"datum": 80}, "text": {"condition": {"test": "datum.v == 2", "value": "Men"}, "value": "Postmenopausal women"}}},
     {"transform": [{"filter": "(datum.v == 2 || datum.v == 5) && datum.part == 'median'"}],
      "mark": {"type": "text", "dy": -8, "baseline": "middle"},
      "encoding": {"x": {"datum": 0.45}, "y": {"datum": 80}, "text": {"condition": {"test": "datum.v == 2", "value": "P for trend<0.001"}, "value": "P for trend  <0.001"}}}
  ]
 }
},
{
 "data": {"name": "C"},
 "title": {"text": "C", "anchor": "start", "fontSize": 7.5, "offset": -7, "dx": -5},
 "facet": {"column": {"field": "v", "type": "ordinal", "header": null}},
 "spacing": 0,
 "bounds": "flush",
 "spec": {
  "width": 17.2, "height": 64,
  "layer": [
     {"transform": [{"filter": "!datum.part"}],
      "mark": {"type": "area", "orient": "horizontal", "interpolate": "monotone", "opacity": 1},
      "encoding": {
       "y": {"field": "y", "type": "quantitative", "title": "β-CTX, ng/ml", "scale": {"domain": [0,0.4,0.6,1.0], "range": [64,16,8,0], "nice": false, "zero": false}, "axis": {"values": [0,0.1,0.2,0.3,0.4,0.6,0.8,1.0], "format": ".1f", "tickCount": 30, "labelOverlap": false}},
       "x": {"field": "d", "type": "quantitative", "stack": "center", "impute": null, "title": null, "scale": {"domain": [-0.05,0.95], "zero": false, "nice": false}, "axis": {"values": [0.45], "labels": false, "tickSize": 2.5}},
       "color": {"field": "cat", "type": "nominal"}
      }},
     {"transform": [{"filter": "datum.part == 'median'"}],
      "mark": {"type": "rule", "orient": "horizontal", "color": "white", "strokeWidth": 0.9},
      "encoding": {"y": {"field": "y", "type": "quantitative"}, "x": {"field": "d", "type": "quantitative", "stack": "center", "impute": null}}},
     {"transform": [{"filter": "datum.part == 'q1' || datum.part == 'q3'"}],
      "mark": {"type": "rule", "orient": "horizontal", "color": "white", "strokeWidth": 0.6, "strokeDash": [1.5,1]},
      "encoding": {"y": {"field": "y", "type": "quantitative"}, "x": {"field": "d", "type": "quantitative", "stack": "center", "impute": null}}},
     {"transform": [{"filter": "datum.v == 4 && datum.part == 'median'"}],
      "mark": {"type": "rule", "color": "#9a9a9a", "strokeWidth": 0.7, "y2Offset": -16},
      "encoding": {"x": {"datum": -0.05}, "y": {"datum": 0}, "y2": {"datum": 1.0}}},
     {"transform": [{"filter": "(datum.v == 1 || datum.v == 4) && datum.part == 'median'"}],
      "mark": {"type": "rule", "color": "#222", "strokeWidth": 0.6, "yOffset": -3},
      "encoding": {"x": {"datum": 0.45}, "x2": {"datum": 0.95}, "y": {"datum": 1.0}}},
     {"transform": [{"filter": "(datum.v == 2 || datum.v == 5) && datum.part == 'median'"}],
      "mark": {"type": "rule", "color": "#222", "strokeWidth": 0.6, "yOffset": -3},
      "encoding": {"x": {"datum": -0.05}, "x2": {"datum": 0.95}, "y": {"datum": 1.0}}},
     {"transform": [{"filter": "(datum.v == 3 || datum.v == 6) && datum.part == 'median'"}],
      "mark": {"type": "rule", "color": "#222", "strokeWidth": 0.6, "yOffset": -3},
      "encoding": {"x": {"datum": -0.05}, "x2": {"datum": 0.45}, "y": {"datum": 1.0}}},
     {"transform": [{"filter": "(datum.v == 1 || datum.v == 3 || datum.v == 4 || datum.v == 6) && datum.part == 'median'"}],
      "mark": {"type": "rule", "color": "#222", "strokeWidth": 0.6, "yOffset": -5, "y2Offset": -1},
      "encoding": {"x": {"datum": 0.45}, "y": {"datum": 1.0}, "y2": {"datum": 1.0}}},
     {"transform": [{"filter": "(datum.v == 2 || datum.v == 5) && datum.part == 'median'"}],
      "mark": {"type": "text", "dy": -15, "baseline": "middle"},
      "encoding": {"x": {"datum": 0.45}, "y": {"datum": 1.0}, "text": {"condition": {"test": "datum.v == 2", "value": "Men"}, "value": "Postmenopausal women"}}},
     {"transform": [{"filter": "(datum.v == 2 || datum.v == 5) && datum.part == 'median'"}],
      "mark": {"type": "text", "dy": -8, "baseline": "middle"},
      "encoding": {"x": {"datum": 0.45}, "y": {"datum": 1.0}, "text": {"condition": {"test": "datum.v == 2", "value": "P for trend 0.020"}, "value": "P for trend 0.067"}}}
  ]
 }
}
]
},
{
"title": {"text": "Estimated fibrosis progression of NAFLD", "anchor": "middle", "offset": 2},
"spacing": 8,
"hconcat": [
{
 "data": {"name": "D"},
 "title": {"text": "D", "anchor": "start", "fontSize": 7.5, "offset": -7, "dx": -5},
 "facet": {"column": {"field": "v", "type": "ordinal", "header": null}},
 "spacing": 0,
 "bounds": "flush",
 "spec": {
  "width": 17.5, "height": 64,
  "layer": [
     {"transform": [{"filter": "!datum.part"}],
      "mark": {"type": "area", "orient": "horizontal", "interpolate": "monotone", "opacity": 1},
      "encoding": {
       "y": {"field": "y", "type": "quantitative", "title": "P1NP, ng/ml", "scale": {"domain": [0,100,200,400], "range": [64,16,9,0], "nice": false, "zero": false}, "axis": {"values": [0,25,50,75,100,200,300,400], "tickCount": 30, "labelOverlap": false}},
       "x": {"field": "d", "type": "quantitative", "stack": "center", "impute": null, "title": null, "scale": {"domain": [-0.05,0.95], "zero": false, "nice": false}, "axis": {"values": [0.45], "labels": false, "tickSize": 2.5}},
       "color": {"field": "cat", "type": "nominal", "scale": {"domain": ["Probable absence of significant fibrosis","Indeterminate result","Probable presence of significant fibrosis"], "range": ["#17908d","#e8414a","#f4a325"]}, "legend": {"orient": "top", "direction": "horizontal", "title": null, "symbolType": "circle", "symbolSize": 70, "symbolStrokeWidth": 0, "labelFontSize": 5.5, "labelFontWeight": "bold", "labelOffset": 5, "columnPadding": 24, "offset": 6, "padding": 0, "labelLimit": 300}}
      }},
     {"transform": [{"filter": "datum.part == 'median'"}],
      "mark": {"type": "rule", "orient": "horizontal", "color": "white", "strokeWidth": 0.9},
      "encoding": {"y": {"field": "y", "type": "quantitative"}, "x": {"field": "d", "type": "quantitative", "stack": "center", "impute": null}}},
     {"transform": [{"filter": "datum.part == 'q1' || datum.part == 'q3'"}],
      "mark": {"type": "rule", "orient": "horizontal", "color": "white", "strokeWidth": 0.6, "strokeDash": [1.5,1]},
      "encoding": {"y": {"field": "y", "type": "quantitative"}, "x": {"field": "d", "type": "quantitative", "stack": "center", "impute": null}}},
     {"transform": [{"filter": "datum.v == 4 && datum.part == 'median'"}],
      "mark": {"type": "rule", "color": "#9a9a9a", "strokeWidth": 0.7, "y2Offset": -16},
      "encoding": {"x": {"datum": -0.05}, "y": {"datum": 0}, "y2": {"datum": 400}}},
     {"transform": [{"filter": "(datum.v == 1 || datum.v == 4) && datum.part == 'median'"}],
      "mark": {"type": "rule", "color": "#222", "strokeWidth": 0.6, "yOffset": -3},
      "encoding": {"x": {"datum": 0.45}, "x2": {"datum": 0.95}, "y": {"datum": 400}}},
     {"transform": [{"filter": "(datum.v == 2 || datum.v == 5) && datum.part == 'median'"}],
      "mark": {"type": "rule", "color": "#222", "strokeWidth": 0.6, "yOffset": -3},
      "encoding": {"x": {"datum": -0.05}, "x2": {"datum": 0.95}, "y": {"datum": 400}}},
     {"transform": [{"filter": "(datum.v == 3 || datum.v == 6) && datum.part == 'median'"}],
      "mark": {"type": "rule", "color": "#222", "strokeWidth": 0.6, "yOffset": -3},
      "encoding": {"x": {"datum": -0.05}, "x2": {"datum": 0.45}, "y": {"datum": 400}}},
     {"transform": [{"filter": "(datum.v == 1 || datum.v == 3 || datum.v == 4 || datum.v == 6) && datum.part == 'median'"}],
      "mark": {"type": "rule", "color": "#222", "strokeWidth": 0.6, "yOffset": -5, "y2Offset": -1},
      "encoding": {"x": {"datum": 0.45}, "y": {"datum": 400}, "y2": {"datum": 400}}},
     {"transform": [{"filter": "(datum.v == 2 || datum.v == 5) && datum.part == 'median'"}],
      "mark": {"type": "text", "dy": -15, "baseline": "middle"},
      "encoding": {"x": {"datum": 0.45}, "y": {"datum": 400}, "text": {"condition": {"test": "datum.v == 2", "value": "Men"}, "value": "Postmenopausal women"}}},
     {"transform": [{"filter": "(datum.v == 2 || datum.v == 5) && datum.part == 'median'"}],
      "mark": {"type": "text", "dy": -8, "baseline": "middle"},
      "encoding": {"x": {"datum": 0.45}, "y": {"datum": 400}, "text": {"condition": {"test": "datum.v == 2", "value": "P for trend 0.051"}, "value": "P for trend <0.001"}}}
  ]
 }
},
{
 "data": {"name": "E"},
 "title": {"text": "E", "anchor": "start", "fontSize": 7.5, "offset": -7, "dx": -5},
 "facet": {"column": {"field": "v", "type": "ordinal", "header": null}},
 "spacing": 0,
 "bounds": "flush",
 "spec": {
  "width": 17.5, "height": 64,
  "layer": [
     {"transform": [{"filter": "!datum.part"}],
      "mark": {"type": "area", "orient": "horizontal", "interpolate": "monotone", "opacity": 1},
      "encoding": {
       "y": {"field": "y", "type": "quantitative", "title": "N-MID osteocalcin, ng/ml", "scale": {"domain": [0,30,40,80], "range": [64,16,8,0], "nice": false, "zero": false}, "axis": {"values": [0,10,20,30,40,60,80], "tickCount": 30, "labelOverlap": false}},
       "x": {"field": "d", "type": "quantitative", "stack": "center", "impute": null, "title": null, "scale": {"domain": [-0.05,0.95], "zero": false, "nice": false}, "axis": {"values": [0.45], "labels": false, "tickSize": 2.5}},
       "color": {"field": "cat", "type": "nominal"}
      }},
     {"transform": [{"filter": "datum.part == 'median'"}],
      "mark": {"type": "rule", "orient": "horizontal", "color": "white", "strokeWidth": 0.9},
      "encoding": {"y": {"field": "y", "type": "quantitative"}, "x": {"field": "d", "type": "quantitative", "stack": "center", "impute": null}}},
     {"transform": [{"filter": "datum.part == 'q1' || datum.part == 'q3'"}],
      "mark": {"type": "rule", "orient": "horizontal", "color": "white", "strokeWidth": 0.6, "strokeDash": [1.5,1]},
      "encoding": {"y": {"field": "y", "type": "quantitative"}, "x": {"field": "d", "type": "quantitative", "stack": "center", "impute": null}}},
     {"transform": [{"filter": "datum.v == 4 && datum.part == 'median'"}],
      "mark": {"type": "rule", "color": "#9a9a9a", "strokeWidth": 0.7, "y2Offset": -16},
      "encoding": {"x": {"datum": -0.05}, "y": {"datum": 0}, "y2": {"datum": 80}}},
     {"transform": [{"filter": "(datum.v == 1 || datum.v == 4) && datum.part == 'median'"}],
      "mark": {"type": "rule", "color": "#222", "strokeWidth": 0.6, "yOffset": -3},
      "encoding": {"x": {"datum": 0.45}, "x2": {"datum": 0.95}, "y": {"datum": 80}}},
     {"transform": [{"filter": "(datum.v == 2 || datum.v == 5) && datum.part == 'median'"}],
      "mark": {"type": "rule", "color": "#222", "strokeWidth": 0.6, "yOffset": -3},
      "encoding": {"x": {"datum": -0.05}, "x2": {"datum": 0.95}, "y": {"datum": 80}}},
     {"transform": [{"filter": "(datum.v == 3 || datum.v == 6) && datum.part == 'median'"}],
      "mark": {"type": "rule", "color": "#222", "strokeWidth": 0.6, "yOffset": -3},
      "encoding": {"x": {"datum": -0.05}, "x2": {"datum": 0.45}, "y": {"datum": 80}}},
     {"transform": [{"filter": "(datum.v == 1 || datum.v == 3 || datum.v == 4 || datum.v == 6) && datum.part == 'median'"}],
      "mark": {"type": "rule", "color": "#222", "strokeWidth": 0.6, "yOffset": -5, "y2Offset": -1},
      "encoding": {"x": {"datum": 0.45}, "y": {"datum": 80}, "y2": {"datum": 80}}},
     {"transform": [{"filter": "(datum.v == 2 || datum.v == 5) && datum.part == 'median'"}],
      "mark": {"type": "text", "dy": -15, "baseline": "middle"},
      "encoding": {"x": {"datum": 0.45}, "y": {"datum": 80}, "text": {"condition": {"test": "datum.v == 2", "value": "Men"}, "value": "Postmenopausal women"}}},
     {"transform": [{"filter": "(datum.v == 2 || datum.v == 5) && datum.part == 'median'"}],
      "mark": {"type": "text", "dy": -8, "baseline": "middle"},
      "encoding": {"x": {"datum": 0.45}, "y": {"datum": 80}, "text": {"condition": {"test": "datum.v == 2", "value": "P for trend 0.656"}, "value": "P for trend 0.134"}}}
  ]
 }
},
{
 "data": {"name": "F"},
 "title": {"text": "F", "anchor": "start", "fontSize": 7.5, "offset": -7, "dx": -5},
 "facet": {"column": {"field": "v", "type": "ordinal", "header": null}},
 "spacing": 0,
 "bounds": "flush",
 "spec": {
  "width": 17.2, "height": 64,
  "layer": [
     {"transform": [{"filter": "!datum.part"}],
      "mark": {"type": "area", "orient": "horizontal", "interpolate": "monotone", "opacity": 1},
      "encoding": {
       "y": {"field": "y", "type": "quantitative", "title": "β-CTX, ng/ml", "scale": {"domain": [0,0.4,0.6,1.0], "range": [64,16,8,0], "nice": false, "zero": false}, "axis": {"values": [0,0.1,0.2,0.3,0.4,0.6,0.8,1.0], "format": ".1f", "tickCount": 30, "labelOverlap": false}},
       "x": {"field": "d", "type": "quantitative", "stack": "center", "impute": null, "title": null, "scale": {"domain": [-0.05,0.95], "zero": false, "nice": false}, "axis": {"values": [0.45], "labels": false, "tickSize": 2.5}},
       "color": {"field": "cat", "type": "nominal"}
      }},
     {"transform": [{"filter": "datum.part == 'median'"}],
      "mark": {"type": "rule", "orient": "horizontal", "color": "white", "strokeWidth": 0.9},
      "encoding": {"y": {"field": "y", "type": "quantitative"}, "x": {"field": "d", "type": "quantitative", "stack": "center", "impute": null}}},
     {"transform": [{"filter": "datum.part == 'q1' || datum.part == 'q3'"}],
      "mark": {"type": "rule", "orient": "horizontal", "color": "white", "strokeWidth": 0.6, "strokeDash": [1.5,1]},
      "encoding": {"y": {"field": "y", "type": "quantitative"}, "x": {"field": "d", "type": "quantitative", "stack": "center", "impute": null}}},
     {"transform": [{"filter": "datum.v == 4 && datum.part == 'median'"}],
      "mark": {"type": "rule", "color": "#9a9a9a", "strokeWidth": 0.7, "y2Offset": -16},
      "encoding": {"x": {"datum": -0.05}, "y": {"datum": 0}, "y2": {"datum": 1.0}}},
     {"transform": [{"filter": "(datum.v == 1 || datum.v == 4) && datum.part == 'median'"}],
      "mark": {"type": "rule", "color": "#222", "strokeWidth": 0.6, "yOffset": -3},
      "encoding": {"x": {"datum": 0.45}, "x2": {"datum": 0.95}, "y": {"datum": 1.0}}},
     {"transform": [{"filter": "(datum.v == 2 || datum.v == 5) && datum.part == 'median'"}],
      "mark": {"type": "rule", "color": "#222", "strokeWidth": 0.6, "yOffset": -3},
      "encoding": {"x": {"datum": -0.05}, "x2": {"datum": 0.95}, "y": {"datum": 1.0}}},
     {"transform": [{"filter": "(datum.v == 3 || datum.v == 6) && datum.part == 'median'"}],
      "mark": {"type": "rule", "color": "#222", "strokeWidth": 0.6, "yOffset": -3},
      "encoding": {"x": {"datum": -0.05}, "x2": {"datum": 0.45}, "y": {"datum": 1.0}}},
     {"transform": [{"filter": "(datum.v == 1 || datum.v == 3 || datum.v == 4 || datum.v == 6) && datum.part == 'median'"}],
      "mark": {"type": "rule", "color": "#222", "strokeWidth": 0.6, "yOffset": -5, "y2Offset": -1},
      "encoding": {"x": {"datum": 0.45}, "y": {"datum": 1.0}, "y2": {"datum": 1.0}}},
     {"transform": [{"filter": "(datum.v == 2 || datum.v == 5) && datum.part == 'median'"}],
      "mark": {"type": "text", "dy": -15, "baseline": "middle"},
      "encoding": {"x": {"datum": 0.45}, "y": {"datum": 1.0}, "text": {"condition": {"test": "datum.v == 2", "value": "Men"}, "value": "Postmenopausal women"}}},
     {"transform": [{"filter": "(datum.v == 2 || datum.v == 5) && datum.part == 'median'"}],
      "mark": {"type": "text", "dy": -8, "baseline": "middle"},
      "encoding": {"x": {"datum": 0.45}, "y": {"datum": 1.0}, "text": {"condition": {"test": "datum.v == 2", "value": "P for trend 0.446"}, "value": "P for trend 0.337"}}}
  ]
 }
}
]
}
],
"spacing": 18,
"resolve": {"scale": {"color": "independent"}, "legend": {"color": "independent"}}
}
